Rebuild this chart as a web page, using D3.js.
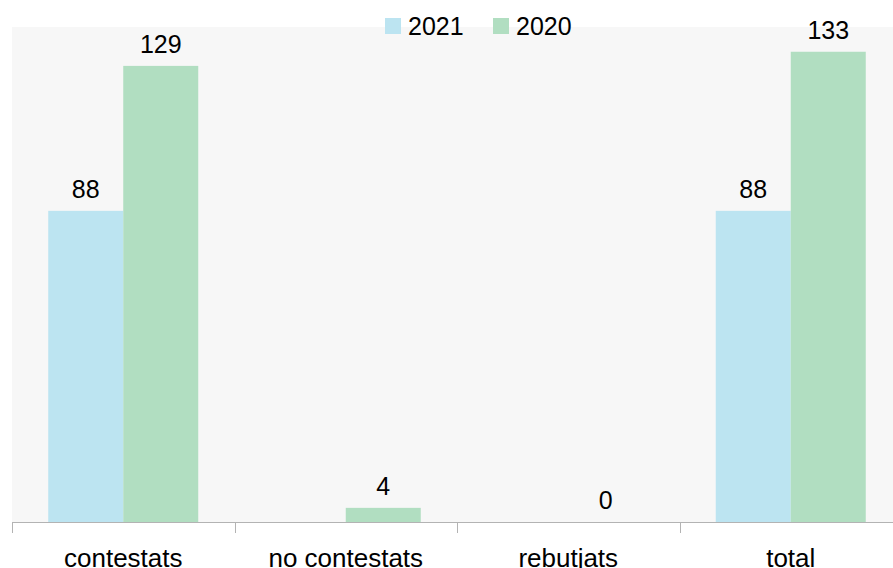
<!DOCTYPE html>
<html>
<head>
<meta charset="utf-8">
<script src="https://cdn.jsdelivr.net/npm/d3@7"></script>
<style>
  html, body { margin: 0; padding: 0; background: #ffffff; }
  svg { display: block; font-family: "Liberation Sans", Arial, sans-serif; }
</style>
</head>
<body>
<div id="chart"></div>
<script>
// Chart data
const categories = ["contestats", "no contestats", "rebutjats", "total"];
const seriesNames = ["2021", "2020"];
const values2021 = [88, null, null, 88];
const values2020 = [129, 4, 0, 133];
const seriesColors = ["#bce4f1", "#b1dec1"];

const W = 893, H = 568;
const svg = d3.select("#chart").append("svg")
  .attr("width", W).attr("height", H);

const plot = { left: 12, top: 27, right: 902, bottom: 522 };

const x = d3.scaleBand()
  .domain(categories)
  .range([plot.left, plot.right])
  .paddingInner(0).paddingOuter(0);

const inner = d3.scaleBand()
  .domain(seriesNames)
  .range([0, 150]);

const y = d3.scaleLinear()
  .domain([0, 140])
  .range([plot.bottom, plot.top]);

// Plot background
svg.append("rect")
  .attr("x", plot.left).attr("y", plot.top)
  .attr("width", plot.right - plot.left)
  .attr("height", plot.bottom - plot.top)
  .attr("fill", "#f7f7f7");

const series = [values2021, values2020];
const rows = [];
series.forEach((vals, si) => {
  vals.forEach((v, ci) => {
    rows.push({ cat: categories[ci], name: seriesNames[si], value: v, color: seriesColors[si] });
  });
});

const groupOffset = (x.bandwidth() - 150) / 2;

// Bars
svg.append("g").selectAll("rect")
  .data(rows.filter(d => d.value !== null))
  .join("rect")
  .attr("x", d => x(d.cat) + groupOffset + inner(d.name))
  .attr("y", d => y(d.value))
  .attr("width", inner.bandwidth())
  .attr("height", d => y(0) - y(d.value))
  .attr("fill", d => d.color);

// Value labels
svg.append("g").selectAll("text")
  .data(rows.filter(d => d.value !== null))
  .join("text")
  .attr("x", d => x(d.cat) + groupOffset + inner(d.name) + inner.bandwidth() / 2)
  .attr("y", d => y(d.value) - 13)
  .attr("text-anchor", "middle")
  .attr("font-size", 25)
  .attr("fill", "#000")
  .text(d => d.value);

// Category axis
const axis = svg.append("g")
  .attr("transform", `translate(0,${plot.bottom})`)
  .call(d3.axisBottom(x).tickSize(0).tickPadding(0));
axis.select(".domain").remove();
axis.selectAll("text").remove();

axis.append("line")
  .attr("x1", plot.left).attr("x2", plot.right)
  .attr("y1", 0.5).attr("y2", 0.5)
  .attr("stroke", "#b3b3b3").attr("stroke-width", 1);

axis.selectAll(".sep")
  .data(categories)
  .join("line")
  .attr("class", "sep")
  .attr("x1", d => Math.round(x(d)) + 0.5)
  .attr("x2", d => Math.round(x(d)) + 0.5)
  .attr("y1", 0).attr("y2", 11)
  .attr("stroke", "#b3b3b3").attr("stroke-width", 1);

axis.selectAll(".cat")
  .data(categories)
  .join("text")
  .attr("class", "cat")
  .attr("x", d => x(d) + x.bandwidth() / 2)
  .attr("y", 45)
  .attr("text-anchor", "middle")
  .attr("font-size", 26)
  .attr("fill", "#000")
  .text(d => d);

// Legend
const legendItems = [
  { name: seriesNames[0], color: seriesColors[0], x: 385 },
  { name: seriesNames[1], color: seriesColors[1], x: 493 }
];
const legend = svg.append("g");
legend.selectAll("rect")
  .data(legendItems)
  .join("rect")
  .attr("x", d => d.x).attr("y", 18)
  .attr("width", 16).attr("height", 16)
  .attr("fill", d => d.color);
legend.selectAll("text")
  .data(legendItems)
  .join("text")
  .attr("x", d => d.x + 23)
  .attr("y", 35)
  .attr("font-size", 25)
  .attr("fill", "#000")
  .text(d => d.name);
</script>
</body>
</html>
